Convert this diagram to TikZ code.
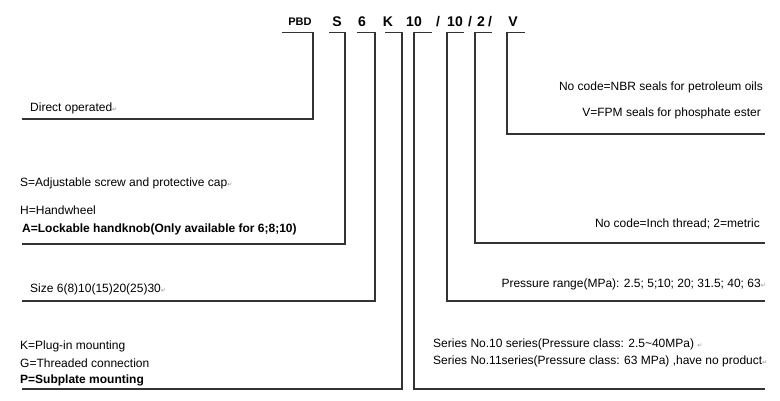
\documentclass[tikz,border=0pt]{standalone}
\usepackage{fontspec}
\setmainfont{Liberation Sans}
\newfontfamily\markfont{DejaVu Sans}
\usepackage{xcolor}
\usetikzlibrary{positioning}
\definecolor{rule}{HTML}{333333}
\newcommand{\pmark}{{\markfont\fontsize{6}{6}\selectfont\color{black!45}↵}}

\begin{document}
\begin{tikzpicture}[x=1pt,y=-1pt,
    every node/.style={font=\fontsize{12}{14}\selectfont,inner sep=0pt},
    code/.style={font=\fontsize{14}{16}\selectfont\bfseries,minimum height=20pt},
    desc/.style={anchor=west},
    descr/.style={anchor=east},
    strong/.style={font=\fontsize{12}{14}\selectfont\bfseries},
    lead/.style={draw=rule,line width=1.1pt}]
    \useasboundingbox (0,0) rectangle (780,401);
    % Code letters
    \node[code,font=\fontsize{11}{13}\selectfont\bfseries] (pbd) at (300,22) {PBD};
    \node[code] (screw) at (337,22) {S};
    \node[code] (size) at (362,22) {6};
    \node[code] (mount) at (388,22) {K};
    \node[code] (series) at (414,22) {10};
    \node[code] (sla) at (438,22) {/};
    \node[code] (press) at (455,22) {10};
    \node[code] (slb) at (470,22) {/};
    \node[code] (thread) at (481,22) {2};
    \node[code] (slc) at (490,22) {/};
    \node[code] (seal) at (513,22) {V};
    % Left descriptions
    \node[desc] (direct) at (30,108) {Direct operated\pmark};
    \node[desc] (adjs) at (20,183) {S=Adjustable screw and protective cap\pmark};
    \node[desc] (adjh) at (20,210) {H=Handwheel};
    \node[desc,strong] (adja) at (22,229) {A=Lockable handknob(Only available for 6;8;10)};
    \node[desc] (sizes) at (30,289) {Size 6(8)10(15)20(25)30\pmark};
    \node[desc] (mtk) at (20,346) {K=Plug-in mounting};
    \node[desc] (mtg) at (20,363) {G=Threaded connection};
    \node[desc,strong] (mtp) at (20,380) {P=Subplate mounting};
    % Right descriptions
    \node[descr] (nbr) at (763,87) {No code=NBR seals for petroleum oils};
    \node[descr] (fpm) at (761,113) {V=FPM seals for phosphate ester};
    \node[descr] (inch) at (760,224) {No code=Inch thread; 2=metric};
    \node[descr] (range) at (766,284) {Pressure range(MPa): 2.5; 5;10; 20; 31.5; 40; 63\pmark};
    \node[desc] (ser10) at (433,344) {Series No.10 series(Pressure class: 2.5\textasciitilde40MPa) \pmark};
    \node[desc] (ser11) at (433,361) {Series No.11series(Pressure class: 63 MPa) ,have no product\pmark};
    % Line ends
    \coordinate (directEnd) at (22,119);
    \coordinate (screwEnd) at (22,244);
    \coordinate (sizeEnd) at (22,301);
    \coordinate (mountEnd) at (22,389);
    \coordinate (seriesEnd) at (765,389);
    \coordinate (pressEnd) at (765,301);
    \coordinate (threadEnd) at (765,243);
    \coordinate (sealEnd) at (765,134);
    % Leaders
    \draw[lead] ([xshift=-18pt]pbd.south) -- ([xshift=13pt]pbd.south) |- (directEnd);
    \draw[lead] ([xshift=-8pt]screw.south) -- ([xshift=8pt]screw.south) |- (screwEnd);
    \draw[lead] ([xshift=-5pt]size.south) -- ([xshift=13pt]size.south) |- (sizeEnd);
    \draw[lead] ([xshift=-3pt]mount.south) -- ([xshift=14pt]mount.south) |- (mountEnd);
    \draw[lead] ([xshift=18pt]series.south) -- (series.south) |- (seriesEnd);
    \draw[lead] ([xshift=9pt]press.south) -- ([xshift=-8pt]press.south) |- (pressEnd);
    \draw[lead] ([xshift=11pt]thread.south) -- ([xshift=-6pt]thread.south) |- (threadEnd);
    \draw[lead] ([xshift=12pt]seal.south) -- ([xshift=-6pt]seal.south) |- (sealEnd);
\end{tikzpicture}
\end{document}
